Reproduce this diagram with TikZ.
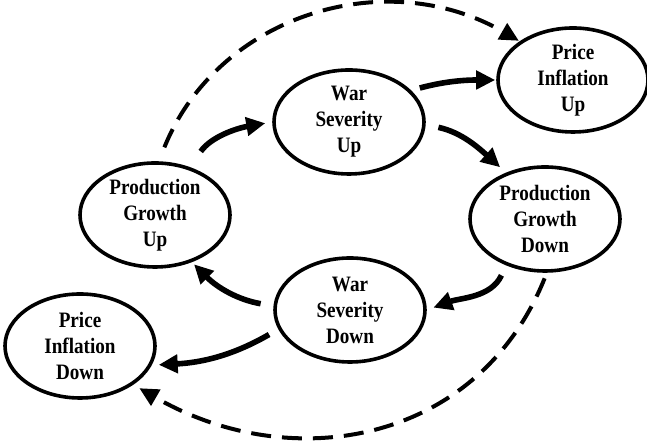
\documentclass[tikz,border=0pt]{standalone}
\usepackage{fontspec}
\setmainfont{Liberation Serif}
\usetikzlibrary{arrows.meta,shapes.geometric}

\begin{document}
\begin{tikzpicture}[x=0.5pt,y=0.5pt,
  state/.style={draw,ellipse,line width=1.8pt,minimum width=75pt,minimum height=52pt,
    inner sep=0pt,align=center,font=\bfseries\addfontfeature{FakeStretch=0.87}\fontsize{11}{13}\selectfont},
  pil/.style={line width=2.8pt,-{Triangle[length=9.5pt,width=9pt]}},
  dpil/.style={line width=2pt,dash pattern=on 10pt off 5.5pt,-{Triangle[length=9.5pt,width=9pt]}}]

\useasboundingbox (0,0) rectangle (647,442);

\node[state] (wsu) at (349,320) {War\\Severity\\Up};
\node[state] (piu) at (573,362) {Price\\Inflation\\Up};
\node[state] (pgu) at (155,227) {Production\\Growth\\Up};
\node[state] (pgd) at (545,223) {Production\\Growth\\Down};
\node[state] (wsd) at (350,132) {War\\Severity\\Down};
\node[state] (pid) at (80,96) {Price\\Inflation\\Down};

% the loop
\draw[pil,shorten <=9.5pt,shorten >=3.5pt] (pgu.54) to[out=55,in=190] (wsu.180);
\draw[pil,shorten <=6.5pt,shorten >=4pt] (wsu.-2) to[out=-12,in=138] (pgd.130);
\draw[pil,shorten <=5.5pt,shorten >=3.5pt] (pgd.-130) to[out=-115,in=20] (wsd.0);
\draw[pil,shorten <=6.5pt,shorten >=1.5pt] (wsd.177) to[out=170,in=-45] (pgu.-52);

% prices
\draw[pil,shorten <=4.5pt,shorten >=0.5pt] (wsu.27) to[out=15,in=180] (piu.180);
\draw[pil,shorten <=5.3pt,shorten >=3.5pt] (wsd.195) to[out=210,in=3] (pid.-15);

%\draw[dpil] (pgu) -- (piu);
\draw[dpil,shorten <=7.5pt,shorten >=0.5pt] (pgu.86) to[out=68,in=150,looseness=1.05] (piu.144);
\draw[dpil,shorten <=3pt,shorten >=3.5pt] (pgd.-88) to[out=-112,in=-30,looseness=1.1] (pid.-36);
\end{tikzpicture}
\end{document}
